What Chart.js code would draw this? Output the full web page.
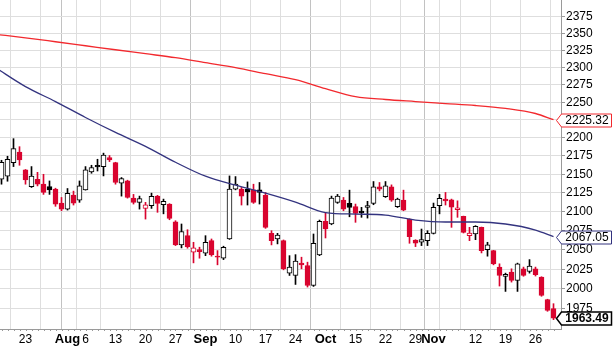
<!DOCTYPE html>
<html lang="en">
  <head>
    <meta charset="utf-8">
    <title>Candlestick chart</title>
    <script src="https://cdn.jsdelivr.net/npm/chart.js@4.4.1/dist/chart.umd.min.js"></script>
    <style>
      html, body { margin: 0; padding: 0; background: #fff; }
      canvas { display: block; }
    </style>
  </head>
  <body>
    <canvas id="myChart" width="614" height="346"></canvas>
    <script>
      // trading days (2012), first one only used for the moving averages
      var dates = [
        '07-16','07-17','07-18','07-19','07-20',
        '07-23','07-24','07-25','07-26','07-27',
        '07-30','07-31','08-01','08-02','08-03',
        '08-06','08-07','08-08','08-09','08-10',
        '08-13','08-14','08-15','08-16','08-17',
        '08-20','08-21','08-22','08-23','08-24',
        '08-27','08-28','08-29','08-30','08-31',
        '09-03','09-04','09-05','09-06','09-07',
        '09-10','09-11','09-12','09-13','09-14',
        '09-17','09-18','09-19','09-20','09-21',
        '09-24','09-25','09-26','09-27','09-28',
        '10-08','10-09','10-10','10-11','10-12',
        '10-15','10-16','10-17','10-18','10-19',
        '10-22','10-23','10-24','10-25','10-26',
        '10-29','10-30','10-31','11-01','11-02',
        '11-05','11-06','11-07','11-08','11-09',
        '11-12','11-13','11-14','11-15','11-16',
        '11-19','11-20','11-21','11-22','11-23',
        '11-26','11-27','11-28','11-29'
      ];

      var opens = [null,
        2143.3, 2147.4, 2166.0, 2180.4,
        2155.9, 2133.4, 2143.3, 2136.6, 2133.4,
        2129.9, 2111.3, 2103.3, 2122.0, 2115.3,
        2128.9, 2153.2, 2162.3, 2160.5, 2172.8,
        2166.0, 2137.9, 2141.0, 2117.9, 2112.3,
        2104.2, 2107.8, 2120.6, 2109.1, 2110.0,
        2086.6, 2056.3, 2068.3, 2046.8, 2050.2,
        2045.5, 2061.8, 2041.7, 2039.1, 2064.0,
        2129.9, 2129.9, 2129.9, 2129.0, 2129.0,
        2121.6, 2071.4, 2064.0, 2061.8, 2020.0,
        2017.0, 2032.7, 2029.7, 2004.3, 2043.3,
        2087.1, 2083.6, 2112.3, 2115.3, 2110.9,
        2106.5, 2100.8, 2105.6, 2110.9, 2132.9,
        2119.7, 2132.9, 2106.5, 2115.3, 2090.1,
        2062.7, 2059.7, 2061.8, 2071.4, 2107.8,
        2116.6, 2115.7, 2102.5, 2093.7, 2068.3,
        2070.5, 2079.2, 2050.2, 2048.9, 2027.7,
        2015.7, 2021.3, 2010.7, 2025.5, 2022.1,
        2025.5, 2015.0, 1986.7, 1975.2];
      var highs = [null,
        2169.1, 2174.6, 2198.9, 2187.8,
        2156.5, 2160.5, 2152.7, 2150.0, 2141.0,
        2131.2, 2118.8, 2130.8, 2127.3, 2141.0,
        2160.5, 2162.3, 2170.5, 2178.9, 2175.6,
        2166.4, 2145.6, 2142.0, 2122.9, 2120.6,
        2112.3, 2124.6, 2121.6, 2116.6, 2110.5,
        2087.9, 2083.6, 2076.1, 2059.7, 2053.3,
        2068.3, 2064.0, 2048.9, 2054.6, 2147.8,
        2146.9, 2132.2, 2139.7, 2136.6, 2138.9,
        2125.5, 2074.8, 2071.4, 2062.7, 2042.4,
        2043.7, 2040.4, 2034.0, 2070.5, 2088.8,
        2099.0, 2120.6, 2122.9, 2118.8, 2128.6,
        2110.0, 2105.6, 2113.6, 2140.2, 2138.9,
        2140.2, 2135.7, 2117.9, 2128.6, 2090.5,
        2063.0, 2077.0, 2074.8, 2111.3, 2122.9,
        2125.5, 2116.6, 2114.3, 2094.0, 2079.2,
        2081.4, 2079.6, 2059.7, 2049.2, 2031.9,
        2020.0, 2025.5, 2032.8, 2027.7, 2037.3,
        2027.7, 2015.4, 1987.0, 1981.4];
      var lows = [null,
        2136.6, 2140.6, 2160.5, 2162.3,
        2136.6, 2132.2, 2134.3, 2122.9, 2122.9,
        2107.0, 2101.1, 2102.0, 2108.7, 2112.3,
        2128.6, 2151.4, 2154.5, 2147.8, 2167.3,
        2136.6, 2120.6, 2117.9, 2110.0, 2103.3,
        2090.1, 2104.2, 2099.0, 2097.0, 2089.2,
        2055.4, 2052.4, 2052.0, 2033.1, 2039.1,
        2042.4, 2041.7, 2030.6, 2037.3, 2063.4,
        2129.0, 2108.7, 2108.7, 2110.9, 2110.0,
        2077.9, 2056.3, 2057.6, 2024.2, 2017.0,
        2005.6, 2025.5, 2002.3, 2003.1, 2042.4,
        2065.3, 2082.6, 2110.9, 2101.1, 2093.1,
        2085.8, 2092.4, 2091.4, 2109.1, 2127.6,
        2118.8, 2113.6, 2105.4, 2101.1, 2058.4,
        2054.1, 2055.4, 2055.4, 2070.5, 2097.0,
        2108.7, 2079.2, 2092.4, 2071.8, 2061.8,
        2063.1, 2045.9, 2041.7, 2030.6, 2003.6,
        1996.8, 2008.6, 1996.8, 2016.0, 2020.0,
        2016.3, 1990.7, 1971.9, 1961.5];
      var closes = [null,
        2166.4, 2170.5, 2185.1, 2169.5,
        2142.4, 2147.7, 2136.6, 2125.5, 2128.9,
        2110.0, 2103.3, 2124.2, 2111.3, 2134.3,
        2155.9, 2159.1, 2160.0, 2176.3, 2169.5,
        2138.9, 2144.2, 2118.8, 2112.3, 2117.3,
        2109.1, 2120.2, 2110.9, 2113.6, 2091.0,
        2056.3, 2073.5, 2053.8, 2052.6, 2047.6,
        2059.7, 2043.4, 2040.4, 2053.3, 2129.9,
        2136.6, 2120.6, 2126.3, 2112.3, 2125.5,
        2079.2, 2061.8, 2069.2, 2025.5, 2027.7,
        2035.3, 2030.6, 2004.3, 2058.4, 2087.1,
        2077.0, 2117.9, 2120.6, 2103.3, 2105.6,
        2097.5, 2098.2, 2107.8, 2132.9, 2129.9,
        2134.3, 2115.3, 2116.6, 2102.0, 2067.0,
        2058.4, 2063.1, 2071.4, 2105.6, 2117.5,
        2114.3, 2105.8, 2105.0, 2072.7, 2071.8,
        2080.6, 2048.9, 2056.3, 2031.9, 2017.0,
        2018.3, 2010.7, 2031.9, 2017.0, 2028.9,
        2017.9, 1991.7, 1973.1, 1963.49];

      // moving averages, read at a few dates
      var maDates = ['07-16','07-23','07-30','08-06','08-13','08-20','08-27','09-03','09-10','09-17',
                     '09-24','10-08','10-15','10-22','10-29','11-05','11-12','11-19','11-26','11-29'];
      var maLong = [2348.6, 2343.4, 2337.6, 2331.7, 2325.8, 2320.0, 2314.2, 2306.9, 2299.7, 2291.0,
                    2282.4, 2269.5, 2258.1, 2253.9, 2251.0, 2248.2, 2245.4, 2241.2, 2234.1, 2225.32];
      var maShort = [2299.7, 2272.4, 2251.0, 2228.5, 2207.6, 2188.3, 2166.4, 2147.4, 2135.3, 2124.6,
                     2112.6, 2098.7, 2096.7, 2095.4, 2088.8, 2086.2, 2086.2, 2083.6, 2075.7, 2067.05];

      var tickDates = ['07-23','07-30','08-01','08-06','08-13','08-20','08-27','09-03','09-10','09-17',
                       '09-24','10-08','10-15','10-22','10-29','11-01','11-05','11-12','11-19','11-26'];
      var tickLabels = ['23','','Aug','6','13','20','27','Sep','10','17',
                        '24','Oct','15','22','29','Nov','','12','19','26'];
      var yTicks = [1975, 2000, 2025, 2050, 2075, 2100, 2125, 2150, 2175, 2200,
                    2225, 2250, 2275, 2300, 2325, 2350, 2375];

      var RED = '#d9042f';
      var BLACK = '#000000';
      var LONG_COLOR = '#f2292e';
      var SHORT_COLOR = '#33337f';
      var FONT = 'Liberation Sans, Arial, sans-serif';

      var bodies = [], wicks = [], bodyFill = [], bodyLine = [], wickColor = [];
      var prevClose = null;
      for (var i = 0; i < dates.length; i++) {
        if (opens[i] === null) continue;
        var o = opens[i], c = closes[i];
        var up = c >= o;
        var rising = prevClose === null ? up : c >= prevClose;
        var col = rising ? BLACK : RED;
        bodies.push({x: i, y: [Math.min(o, c), Math.max(o, c)]});
        wicks.push({x: i, y: [lows[i], highs[i]]});
        bodyFill.push(up ? '#ffffff' : col);
        bodyLine.push(col);
        wickColor.push(col);
        prevClose = c;
      }

      var longPts = maDates.map(function(d, k) { return {x: dates.indexOf(d), y: maLong[k]}; });
      var shortPts = maDates.map(function(d, k) { return {x: dates.indexOf(d), y: maShort[k]}; });

      function isMonth(k) { return isNaN(Number(tickLabels[k])) && tickLabels[k] !== ''; }

      // small day marks along the date axis
      var dayMarks = {
        id: 'dayMarks',
        afterDraw: function(chart) {
          var x = chart.scales.x, ctx = chart.ctx, bottom = chart.chartArea.bottom;
          ctx.save();
          ctx.strokeStyle = '#9a9a9a';
          ctx.lineWidth = 1;
          ctx.beginPath();
          for (var i = 0; i < dates.length; i++) {
            var px = Math.round(x.getPixelForValue(i)) + 0.5;
            if (px < chart.chartArea.left || px > chart.chartArea.right) continue;
            ctx.moveTo(px, bottom);
            ctx.lineTo(px, bottom + 2);
          }
          ctx.stroke();
          ctx.restore();
        }
      };

      // last value boxes on the price axis
      var badges = {
        id: 'badges',
        afterDraw: function(chart) {
          var y = chart.scales.y, ctx = chart.ctx;
          var items = [
            {v: maLong[maLong.length - 1], color: LONG_COLOR, bold: false},
            {v: maShort[maShort.length - 1], color: SHORT_COLOR, bold: false},
            {v: closes[closes.length - 1], color: BLACK, bold: true}
          ];
          items.forEach(function(it) {
            var py = Math.round(y.getPixelForValue(it.v)) + 0.5;
            var body = chart.chartArea.right + 0.5, left = body - 5, right = 611.5, h = 6.5;
            ctx.save();
            ctx.beginPath();
            ctx.moveTo(left, py);
            ctx.lineTo(body, py - h);
            ctx.lineTo(right, py - h);
            ctx.lineTo(right, py + h);
            ctx.lineTo(body, py + h);
            ctx.closePath();
            ctx.fillStyle = '#ffffff';
            ctx.fill();
            ctx.strokeStyle = it.color;
            ctx.lineWidth = it.bold ? 1.5 : 1;
            ctx.stroke();
            ctx.fillStyle = '#000';
            ctx.font = (it.bold ? 'bold ' : '') + '12px ' + FONT;
            ctx.textBaseline = 'middle';
            ctx.textAlign = 'center';
            ctx.fillText(it.v.toFixed(2), (body + right) / 2 + 0.5, py + 0.5);
            ctx.restore();
          });
        }
      };

      var ctx = document.getElementById('myChart').getContext('2d');
      var myChart = new Chart(ctx, {
        type: 'bar',
        data: {
          datasets: [
            {
              type: 'line', label: 'MA long', data: longPts, order: 0,
              borderColor: LONG_COLOR, borderWidth: 1.3, pointRadius: 0,
              cubicInterpolationMode: 'monotone', fill: false
            },
            {
              type: 'line', label: 'MA short', data: shortPts, order: 1,
              borderColor: SHORT_COLOR, borderWidth: 1.3, pointRadius: 0,
              cubicInterpolationMode: 'monotone', fill: false
            },
            {
              label: 'body', data: bodies, order: 2, grouped: false,
              backgroundColor: bodyFill, borderColor: bodyLine, borderWidth: 1,
              borderSkipped: false, barThickness: 5, minBarLength: 1
            },
            {
              label: 'wick', data: wicks, order: 3, grouped: false,
              backgroundColor: wickColor, borderWidth: 0, barThickness: 1
            }
          ]
        },
        options: {
          responsive: false,
          animation: false,
          devicePixelRatio: 1,
          events: [],
          layout: { padding: 0 },
          plugins: { legend: { display: false }, tooltip: { enabled: false } },
          scales: {
            x: {
              type: 'linear', min: 0.75, max: 94.25, offset: false,
              afterBuildTicks: function(s) {
                s.ticks = tickDates.map(function(d, k) { return {value: dates.indexOf(d), major: isMonth(k)}; });
              },
              afterFit: function(s) {
                s.height = 17;
                s.paddingLeft = 0;
                s.paddingRight = 0;
              },
              ticks: {
                autoSkip: false, maxRotation: 0, padding: 3, color: '#000',
                font: function(c) {
                  return c.tick && c.tick.major ? {family: FONT, size: 13, weight: 'bold'} : {family: FONT, size: 12};
                },
                callback: function(v, k) { return tickLabels[k]; }
              },
              grid: {
                drawTicks: false,
                color: function(c) { return c.tick && c.tick.major ? '#c2c2c2' : '#dedede'; }
              },
              border: { color: '#9a9a9a' }
            },
            y: {
              type: 'logarithmic', position: 'right', min: 1950, max: 2400,
              afterBuildTicks: function(s) {
                s.ticks = yTicks.map(function(v) { return {value: v}; });
              },
              afterFit: function(s) {
                s.width = 53;
                s.paddingTop = 0;
                s.paddingBottom = 0;
              },
              ticks: {
                autoSkip: false, padding: 1, color: '#000',
                font: {family: FONT, size: 12},
                callback: function(v) { return String(v); }
              },
              grid: { color: '#dedede', tickLength: 4, tickColor: '#9a9a9a' },
              border: { color: '#9a9a9a' }
            }
          }
        },
        plugins: [dayMarks, badges]
      });
    </script>
  </body>
</html>
